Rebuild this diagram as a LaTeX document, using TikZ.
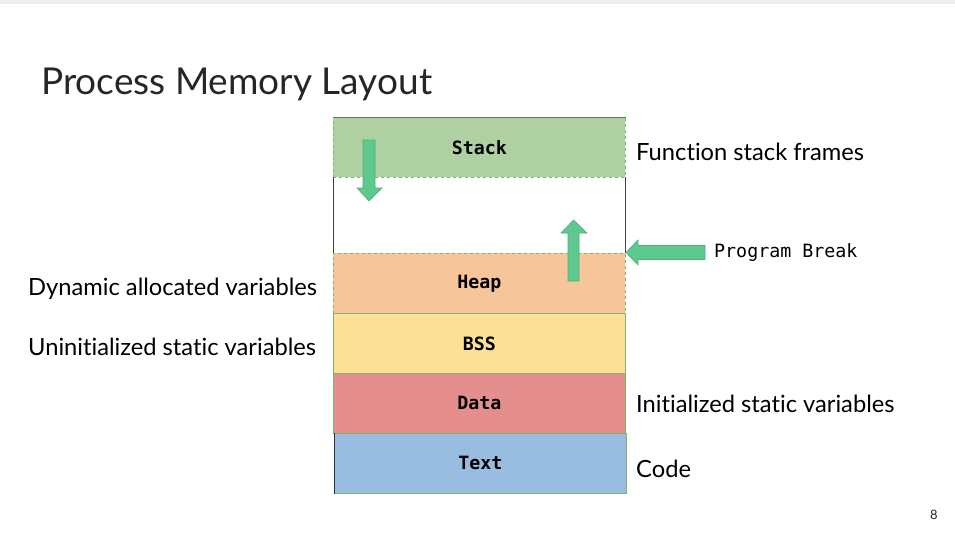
\documentclass[tikz,border=0pt]{standalone}
\usepackage{fontspec}
\setmainfont{Lato}[Ligatures=NoCommon]
\setmonofont{DejaVu Sans Mono}
\definecolor{topband}{HTML}{EEEFF2}
\definecolor{stackc}{HTML}{AFD0A1}
\definecolor{heapc}{HTML}{F6C59A}
\definecolor{bssc}{HTML}{FCE095}
\definecolor{datac}{HTML}{E48E8E}
\definecolor{textc}{HTML}{99BDE0}
\definecolor{edgec}{HTML}{82B366}
\definecolor{arrowc}{HTML}{5DC98E}
\definecolor{arrowe}{HTML}{4FAF7A}
\definecolor{titlec}{HTML}{262626}
\tikzset{
  seg/.style={draw=edgec, line width=0.8pt, minimum width=292pt, minimum height=60pt, inner sep=0pt, anchor=north west, font=\ttfamily\bfseries\fontsize{18.3}{21}\selectfont},
  dseg/.style={seg, dashed},
  blockarrow/.style={fill=arrowc, draw=arrowe, line width=0.6pt},
  lbl/.style={font=\fontsize{23.7}{27}\selectfont, inner sep=0pt},
}
\begin{document}
\begin{tikzpicture}[x=1pt,y=-1pt]
\useasboundingbox (0,0) rectangle (955,543);
\fill[white] (0,0) rectangle (955,543);
\fill[topband] (0,0) rectangle (955,4);
\node[anchor=west, inner sep=0pt, text=titlec, font=\fontsize{37}{42}\selectfont] (title) at (41,84) {Process Memory Layout};
% memory segments
\node[dseg, fill=stackc] (stack) at (333,117) {Stack};
\draw[line width=0.8pt, draw=edgec!70!black] (stack.north west) -- (stack.north east);
\node[draw=none, minimum width=292pt, minimum height=76pt, inner sep=0pt, anchor=north west] (gap) at (333,177) {};
\draw[line width=0.6pt, draw=black!75] (gap.north west) -- (gap.south west) (gap.north east) -- (gap.south east);
\node[dseg, fill=heapc] (heap) at (333,253) {Heap};
\node[seg, fill=bssc] (bss) at (333,313) {BSS};
\node[seg, fill=datac] (data) at (333,373) {Data};
\node[seg, fill=textc] (text) at (334,433) {Text};
\draw[line width=0.8pt, black!80] (text.north west) -- (text.south west);
% growth arrows
\draw[blockarrow] (363,140) -- (375,140) -- (375,188) -- (382,188) -- (369,201) -- (357,188) -- (363,188) -- cycle;
\draw[blockarrow] (568,281) -- (579,281) -- (579,233) -- (587,233) -- (573.5,220) -- (561,233) -- (568,233) -- cycle;
\draw[blockarrow] (705,245.5) -- (638,245.5) -- (638,240) -- (626,252.5) -- (638,265) -- (638,259.5) -- (705,259.5) -- cycle;
% labels
\node[lbl, anchor=west] (lstack) at (636,152) {Function stack frames};
\node[anchor=west, inner sep=0pt, font=\ttfamily\fontsize{18.3}{21}\selectfont] (lbreak) at (714,252.5) {Program Break};
\node[lbl, anchor=west] (lheap) at (28,289) {Dynamic allocated variables};
\node[lbl, anchor=west] (lbss) at (28,347) {Uninitialized static variables};
\node[lbl, anchor=west] (ldata) at (636,404) {Initialized static variables};
\node[lbl, anchor=west] (ltext) at (636,469) {Code};
\node[font=\fontsize{13}{15}\selectfont, inner sep=0pt, text=titlec] (page) at (934,515) {8};
\end{tikzpicture}
\end{document}
